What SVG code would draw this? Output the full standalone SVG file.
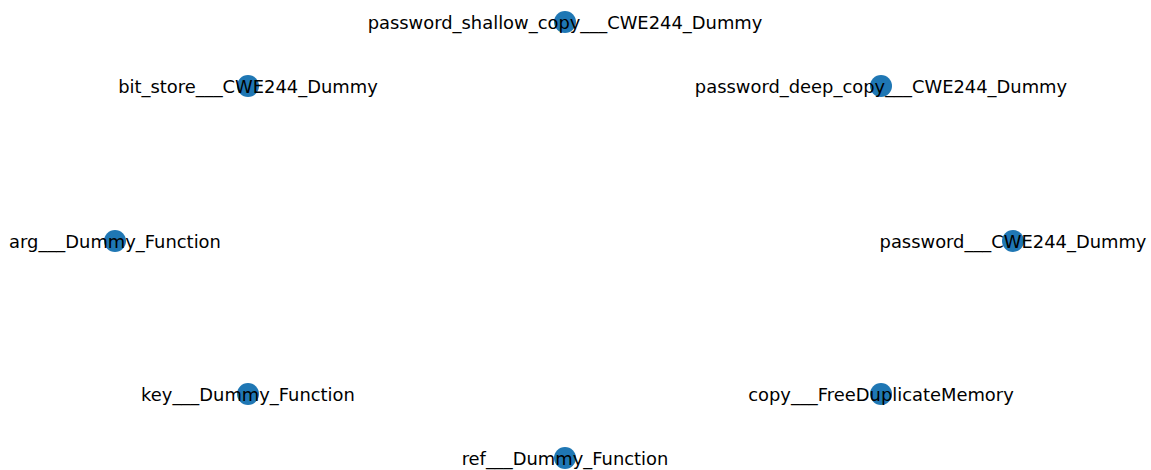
<svg xmlns="http://www.w3.org/2000/svg" width="1151" height="470" viewBox="0 0 1151 470">
<style>
.n{fill:#1f77b4;}
.l{font-family:"DejaVu Sans",sans-serif;font-size:17.9px;fill:#000;text-anchor:middle;dominant-baseline:central;}
</style>
<rect width="1151" height="470" fill="#fff"/>
<g id="edges"></g>
<g id="n1"><circle class="n" cx="565" cy="22" r="11"/><text class="l" x="565" y="22">password_shallow_copy___CWE244_Dummy</text></g>
<g id="n2"><circle class="n" cx="248" cy="86" r="11"/><text class="l" x="248" y="86">bit_store___CWE244_Dummy</text></g>
<g id="n3"><circle class="n" cx="881" cy="86" r="11"/><text class="l" x="881" y="86">password_deep_copy___CWE244_Dummy</text></g>
<g id="n4"><circle class="n" cx="115" cy="241" r="11"/><text class="l" x="115" y="241">arg___Dummy_Function</text></g>
<g id="n5"><circle class="n" cx="1013" cy="241" r="11"/><text class="l" x="1013" y="241">password___CWE244_Dummy</text></g>
<g id="n6"><circle class="n" cx="248" cy="394" r="11"/><text class="l" x="248" y="394">key___Dummy_Function</text></g>
<g id="n7"><circle class="n" cx="881" cy="394" r="11"/><text class="l" x="881" y="394">copy___FreeDuplicateMemory</text></g>
<g id="n8"><circle class="n" cx="565" cy="458" r="11"/><text class="l" x="565" y="458">ref___Dummy_Function</text></g>
</svg>
